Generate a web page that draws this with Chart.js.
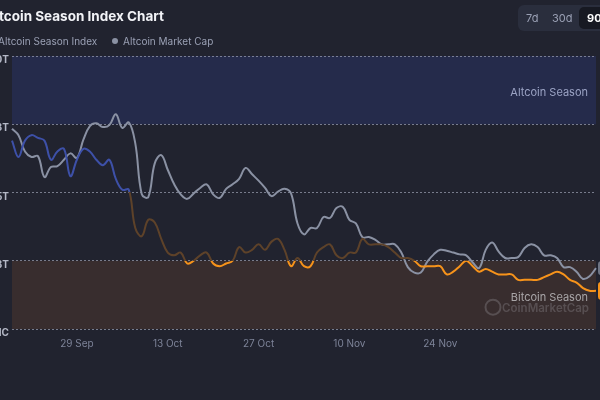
<!DOCTYPE html>
<html>
<head>
<meta charset="utf-8">
<script src="https://cdn.jsdelivr.net/npm/chart.js@4"></script>
<style>
  html, body { margin: 0; padding: 0; background: #21232f; overflow: hidden; }
  body { width: 600px; height: 400px; position: relative; font-family: Inter, "Noto Sans", sans-serif; }
  #wrap { position: absolute; left: 0; top: 0; width: 600px; height: 400px; }
  .title { position: absolute; left: -15px; top: 8px; font-size: 13.5px; font-weight: 700; color: #f2f3f7; white-space: nowrap; }
  .legend { position: absolute; left: -13px; top: 34px; font-size: 10px; color: #9aa0b4; white-space: nowrap; }
  .legend span { display: inline-block; vertical-align: middle; }
  .dot { width: 6px; height: 6px; border-radius: 50%; margin-right: 5px; }
  .btns { position: absolute; left: 518px; top: 5px; width: 110px; height: 26px; background: #2a2e3d; border-radius: 6px; font-size: 11px; color: #9aa0b4; }
  .btns div { position: absolute; top: 0; line-height: 26px; }
  .btns .on { background: #171922; color: #fff; font-weight: 700; border-radius: 5px; top: 2px; line-height: 22px; padding: 0 8px; }
</style>
</head>
<body>
<div id="wrap"><canvas id="myChart"></canvas></div>
<div class="title">Altcoin Season Index Chart</div>
<div class="legend">
  <span class="dot" style="background:#3b4ea0"></span><span>Altcoin Season Index</span>
  <span class="dot" style="background:#8a91a3;margin-left:12px"></span><span>Altcoin Market Cap</span>
</div>
<div class="btns">
  <div style="left:8px">7d</div>
  <div style="left:34px">30d</div>
  <div class="on" style="left:61px">90d</div>
</div>
<script>
// dati del grafico
var startDate = new Date(2024, 8, 19);
var xTickLabels = ['29 Sep', '13 Oct', '27 Oct', '10 Nov', '24 Nov'];

// Altcoin Season Index (0-100)
var seasonIndex = [
  69, 63, 69, 71, 70, 69, 62, 65, 66, 56,
  62, 66, 65, 62, 60, 62, 55, 51, 51, 37,
  34, 40, 39, 33, 28, 27, 28, 24, 25, 27,
  28, 24, 23, 24, 25, 30, 28, 29, 31, 29,
  32, 33, 29, 23, 26, 23, 23, 28, 30, 31,
  27, 26, 28, 28, 33, 31, 31, 31, 30, 28,
  26, 26, 25, 23, 23, 23, 23, 20, 21, 23,
  25, 23, 21, 22, 21, 20, 20, 20, 18, 18,
  18, 18, 19, 20, 21, 20, 18, 17, 15, 14,
  14
];

// Altcoin Market Cap ($T)
var marketCap = [
  1.320, 1.313, 1.295, 1.289, 1.290, 1.267, 1.278, 1.279, 1.286, 1.293,
  1.288, 1.308, 1.323, 1.326, 1.322, 1.324, 1.336, 1.321, 1.327, 1.304,
  1.248, 1.245, 1.282, 1.291, 1.275, 1.259, 1.248, 1.243, 1.249, 1.255,
  1.259, 1.248, 1.244, 1.254, 1.259, 1.265, 1.277, 1.270, 1.263, 1.255,
  1.246, 1.251, 1.254, 1.249, 1.216, 1.204, 1.211, 1.211, 1.223, 1.222,
  1.233, 1.234, 1.220, 1.216, 1.201, 1.201, 1.198, 1.193, 1.193, 1.193,
  1.184, 1.168, 1.162, 1.162, 1.174, 1.182, 1.187, 1.186, 1.184, 1.182,
  1.181, 1.173, 1.167, 1.187, 1.195, 1.185, 1.178, 1.178, 1.179, 1.189,
  1.193, 1.190, 1.181, 1.181, 1.178, 1.168, 1.168, 1.163, 1.155, 1.158,
  1.167
];

// tick asse sinistro (tagliati nello screenshot)
var capTicks = [1.10, 1.175, 1.25, 1.325, 1.40];
var capTickLabels = ['IC', '8T', '5T', '3T', '0T'];

var months = ['Jan','Feb','Mar','Apr','May','Jun','Jul','Aug','Sep','Oct','Nov','Dec'];
var labels = [];
for (var i = 0; i < seasonIndex.length; i++) {
  var d = new Date(startDate.getTime());
  d.setDate(d.getDate() + i);
  labels.push(d.getDate() + ' ' + months[d.getMonth()]);
}

// fasce Altcoin / Bitcoin season
var bandsPlugin = {
  id: 'bands',
  beforeDraw: function (chart) {
    var c = chart.ctx, a = chart.chartArea, s = chart.scales.idx;
    c.save();
    c.fillStyle = '#252b4b';
    c.fillRect(a.left, s.getPixelForValue(100), a.right - a.left, s.getPixelForValue(75) - s.getPixelForValue(100));
    c.fillStyle = '#382d2e';
    c.fillRect(a.left, s.getPixelForValue(25), a.right - a.left, s.getPixelForValue(0) - s.getPixelForValue(25));
    c.font = '11px Inter';
    c.textAlign = 'right';
    c.textBaseline = 'middle';
    c.fillStyle = '#9ba3c4';
    c.fillText('Altcoin Season', a.right - 8, s.getPixelForValue(86.5));
    c.fillStyle = '#a9a6a8';
    c.fillText('Bitcoin Season', a.right - 8, s.getPixelForValue(11.5));
    // watermark
    c.globalAlpha = 0.22;
    c.font = '600 11.5px Inter';
    c.fillStyle = '#c8c8d0';
    c.fillText('CoinMarketCap', a.right - 7, s.getPixelForValue(7.5));
    c.strokeStyle = '#c8c8d0';
    c.lineWidth = 2;
    c.beginPath();
    c.arc(a.right - 103, s.getPixelForValue(8), 7.5, 0, Math.PI * 2);
    c.stroke();
    c.restore();
  },
  afterDatasetsDraw: function (chart) {
    var c = chart.ctx, a = chart.chartArea;
    var yc = chart.scales.cap.getPixelForValue(marketCap[marketCap.length - 1]);
    var yi = chart.scales.idx.getPixelForValue(seasonIndex[seasonIndex.length - 1]);
    c.save();
    c.fillStyle = '#6f7584';
    c.beginPath();
    c.roundRect(a.right + 2, yc - 7, 14, 14, 3);
    c.fill();
    c.fillStyle = '#f7931a';
    c.beginPath();
    c.roundRect(a.right + 2, yi - 9, 16, 18, 3);
    c.fill();
    c.restore();
  }
};

function indexGradient(context) {
  var chart = context.chart, a = chart.chartArea;
  if (!a) return '#3b4ea0';
  var s = chart.scales.idx;
  var g = chart.ctx.createLinearGradient(0, a.top, 0, a.bottom);
  var f50 = (s.getPixelForValue(50) - a.top) / (a.bottom - a.top);
  var f25 = (s.getPixelForValue(25) - a.top) / (a.bottom - a.top);
  g.addColorStop(0, '#3d50a8');
  g.addColorStop(f50, '#3d50a8');
  g.addColorStop(f50, '#5e4229');
  g.addColorStop(f25, '#5e4229');
  g.addColorStop(f25, '#f7931a');
  g.addColorStop(1, '#f7931a');
  return g;
}

var ctx = document.getElementById('myChart').getContext('2d');
var myChart = new Chart(ctx, {
  type: 'line',
  data: {
    labels: labels,
    datasets: [{
      label: 'Altcoin Season Index',
      data: seasonIndex,
      yAxisID: 'idx',
      borderColor: indexGradient,
      borderWidth: 2,
      pointRadius: 0,
      tension: 0.4
    }, {
      label: 'Altcoin Market Cap',
      data: marketCap,
      yAxisID: 'cap',
      borderColor: '#8a91a3',
      borderWidth: 2,
      pointRadius: 0,
      tension: 0.4
    }]
  },
  plugins: [bandsPlugin],
  options: {
    responsive: true,
    maintainAspectRatio: false,
    animation: false,
    layout: { padding: { top: 56, right: 4, left: 0, bottom: 41 } },
    plugins: { legend: { display: false }, tooltip: { enabled: false } },
    scales: {
      x: {
        grid: { display: false },
        border: { display: false },
        afterFit: function (s) { s.height = 30; },
        ticks: {
          autoSkip: false,
          maxRotation: 0,
          padding: 1,
          color: '#7d8398',
          font: { family: 'Inter', size: 10 },
          callback: function (v, i) {
            var l = labels[i];
            return xTickLabels.indexOf(l) >= 0 ? l : '';
          }
        }
      },
      cap: {
        position: 'left',
        min: 1.10,
        max: 1.40,
        afterBuildTicks: function (s) { s.ticks = capTicks.map(function (v) { return { value: v }; }); },
        afterFit: function (s) { s.width = 12; },
        grid: { color: 'rgba(150,155,172,0.75)', lineWidth: 1, drawTicks: false },
        border: { display: false, dash: [2, 2] },
        ticks: {
          padding: 3,
          labelOffset: 4,
          color: '#b4b8c6',
          font: { family: 'Inter', size: 10, weight: 'bold' },
          callback: function (v, i) { return capTickLabels[i]; }
        }
      },
      idx: {
        position: 'right',
        min: 0,
        max: 100,
        display: false
      }
    }
  }
});
</script>
</body>
</html>
